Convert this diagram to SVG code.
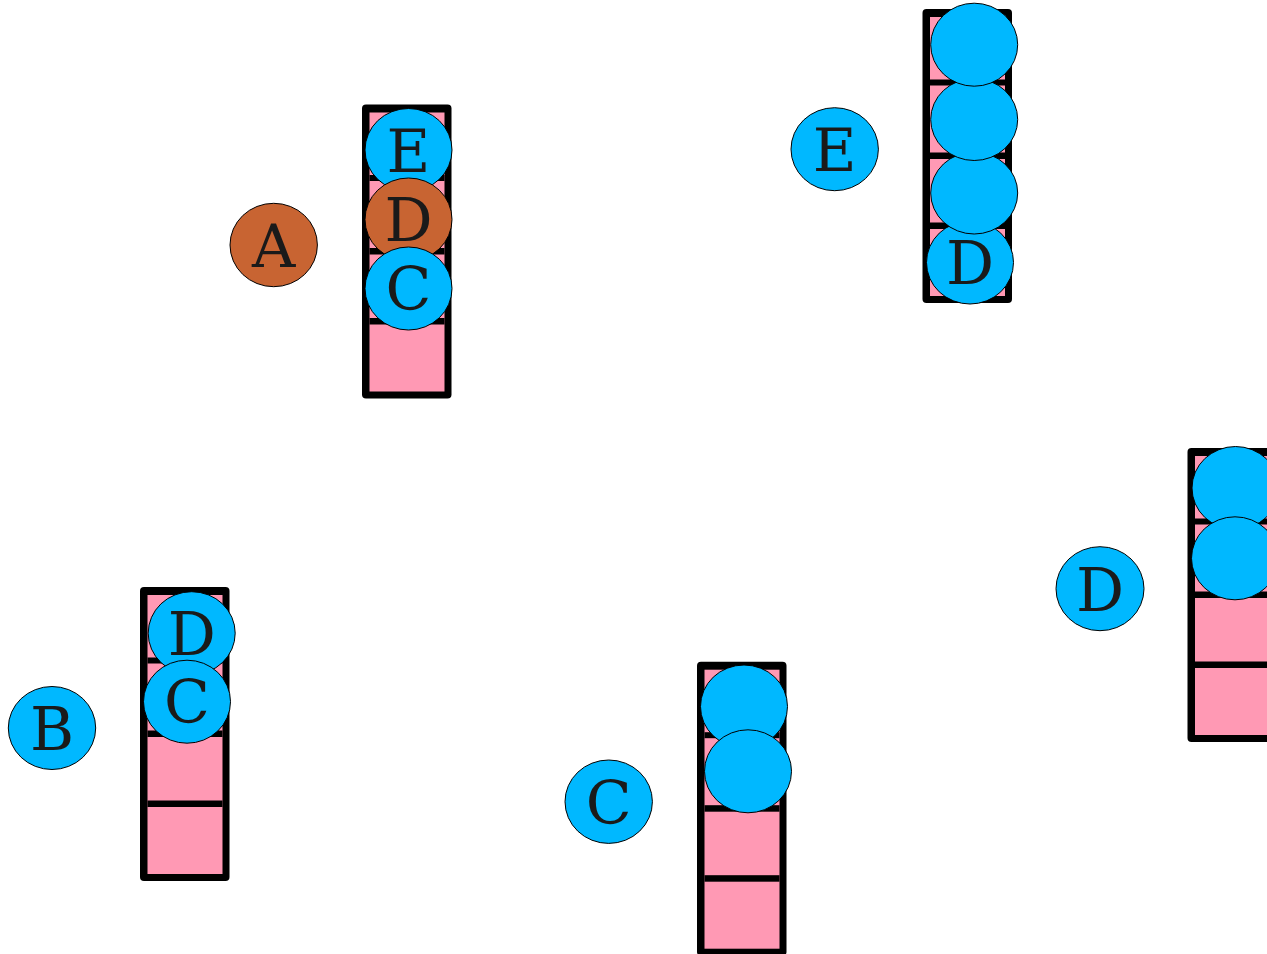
<svg xmlns="http://www.w3.org/2000/svg" xmlns:xlink="http://www.w3.org/1999/xlink" width="1267" height="954" viewBox="0 0 1267 954">
<style>
.frame{fill:#000}
.cell{fill:#ff99b4}
.div{fill:#000}
.b{fill:#00b8ff;stroke:#000;stroke-width:1}
.r{fill:#c86432;stroke:#000;stroke-width:1}
.t{font-family:"DejaVu Serif",serif;font-size:60px;fill:#1a1a1a;text-anchor:middle}
</style>
<defs>
<g id="stack">
<rect class="frame" x="0" y="0" width="89.5" height="294" rx="4"/>
<rect class="cell" x="7.5" y="8" width="75" height="279"/>
<rect class="div" x="7.5" y="70.5" width="75" height="6"/>
<rect class="div" x="7.5" y="143.5" width="75" height="6.5"/>
<rect class="div" x="7.5" y="213.5" width="75" height="6.5"/>
</g>
</defs>
<rect width="1267" height="954" fill="#fff"/>
<g id="connectors"></g>

<g id="stack1">
<use xlink:href="#stack" x="362" y="104.5"/>
<ellipse class="b" cx="408.5" cy="150" rx="43.5" ry="41.5"/>
<text class="t" x="408.5" y="171.5">E</text>
<ellipse class="r" cx="408.5" cy="219.5" rx="43.5" ry="41.5"/>
<text class="t" x="408.5" y="241">D</text>
<ellipse class="b" cx="408.5" cy="288.5" rx="43.5" ry="41.5"/>
<text class="t" x="408.5" y="310">C</text>
</g>
<g id="nodeA">
<ellipse class="r" cx="273.7" cy="245" rx="43.7" ry="41.7"/>
<text class="t" x="273.7" y="267">A</text>
</g>

<g id="stack2">
<use xlink:href="#stack" x="922.5" y="9"/>
<ellipse class="b" cx="970" cy="262.5" rx="43.5" ry="41.5"/>
<text class="t" x="970" y="283.5">D</text>
<ellipse class="b" cx="974.2" cy="193" rx="43.5" ry="41"/>
<ellipse class="b" cx="974.2" cy="119.5" rx="43.5" ry="41"/>
<ellipse class="b" cx="974.2" cy="44.7" rx="43.5" ry="41.5"/>
</g>
<g id="nodeE">
<ellipse class="b" cx="834.7" cy="149.2" rx="43.7" ry="41.5"/>
<text class="t" x="834.7" y="171">E</text>
</g>

<g id="stack3">
<use xlink:href="#stack" x="140" y="587"/>
<ellipse class="b" cx="191.7" cy="633.2" rx="43.5" ry="41.5"/>
<text class="t" x="191.7" y="655">D</text>
<ellipse class="b" cx="187" cy="701.7" rx="43.5" ry="41.5"/>
<text class="t" x="187" y="723">C</text>
</g>
<g id="nodeB">
<ellipse class="b" cx="52" cy="728" rx="43.7" ry="41.5"/>
<text class="t" x="52" y="750">B</text>
</g>

<g id="stack4">
<use xlink:href="#stack" x="697" y="661.7"/>
<ellipse class="b" cx="744" cy="706.5" rx="43.5" ry="41.5"/>
<ellipse class="b" cx="748" cy="771.3" rx="43.5" ry="41.5"/>
</g>
<g id="nodeC">
<ellipse class="b" cx="608.7" cy="801.7" rx="43.7" ry="41.7"/>
<text class="t" x="608.7" y="823.5">C</text>
</g>

<g id="stack5">
<use xlink:href="#stack" x="1187.5" y="448"/>
<ellipse class="b" cx="1235.5" cy="488" rx="43.5" ry="41.5"/>
<ellipse class="b" cx="1235" cy="558.3" rx="43.5" ry="41.5"/>
</g>
<g id="nodeD">
<ellipse class="b" cx="1100" cy="588.7" rx="44" ry="42"/>
<text class="t" x="1100" y="610.5">D</text>
</g>
</svg>
